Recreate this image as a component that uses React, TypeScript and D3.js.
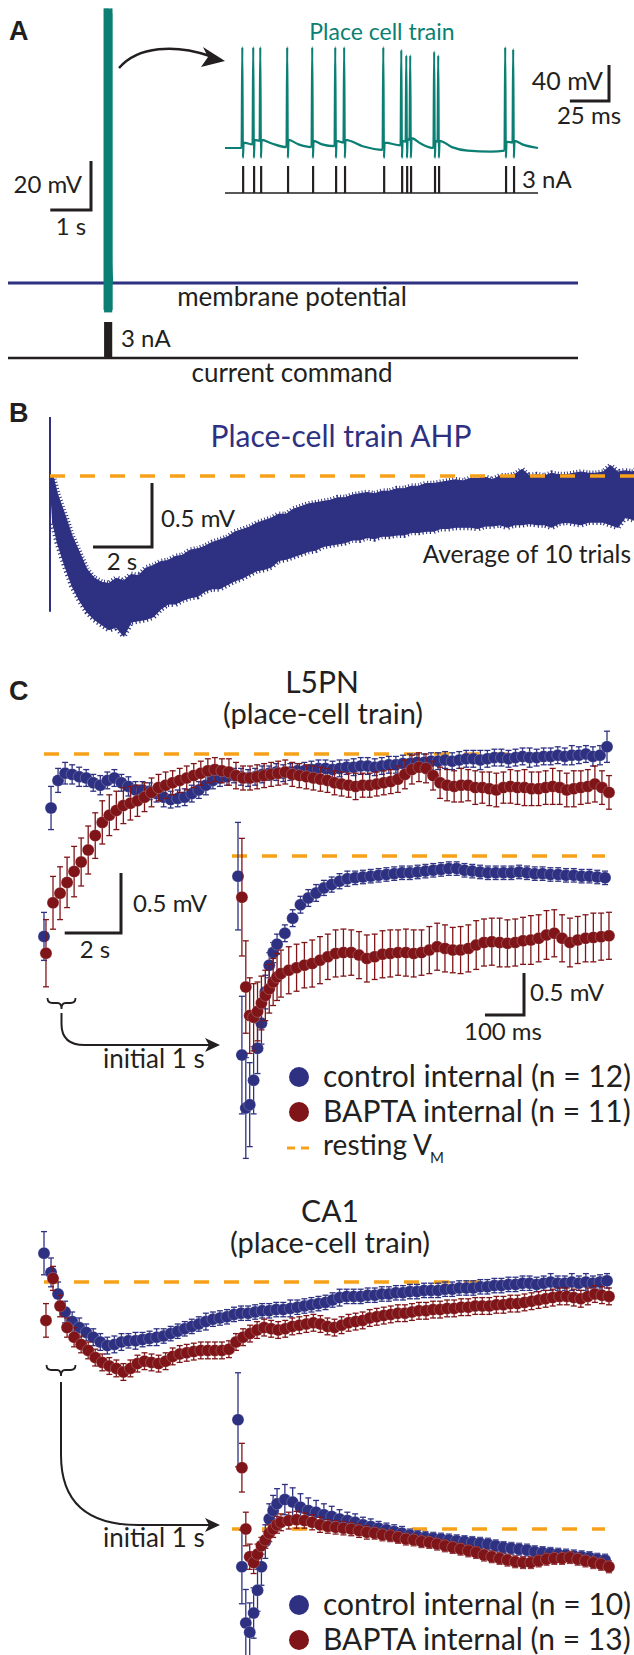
import React from 'react';
import * as d3 from 'd3';

const W = 634, H = 1655;
const FONT = "Lato, 'Open Sans', sans-serif";
const BOLD = "'Liberation Sans', Arial, sans-serif";
const INK = '#231f20';
const BLUE = '#2e3182';
const RED = '#7f1518';
const TEAL = '#0b7f73';
const ORANGE = '#f7a11a';

// ---------- Panel A: place-cell train ----------
const A_TRAIN_START_S = 2.36;
const A_SPIKE_T = [10.9, 17.9, 22.4, 39.6, 55.6, 70.3, 76, 101, 112.5, 115.7, 118.2, 133.5, 136.1, 178.9, 184];
const A_SPIKE_PEAK = [112, 112, 112, 112, 112, 112, 112, 112, 109, 103, 103, 107, 103, 112, 110];
const A_TROUGH_MV = -11;
const A_SUB_T = [0, 10.6, 11.9, 17.6, 18.9, 22.1, 23.4, 30, 39.3, 40.6, 47, 55.3, 56.6, 62, 70, 71.3, 75.7, 77, 88, 100.7, 102, 112.2, 113.5, 115.4, 116.7, 117.9, 119.2, 125, 133.2, 134.5, 135.8, 137.1, 145, 155, 170, 178.6, 179.9, 183.7, 185, 190, 200];
const A_SUB_V = [0, 0, 6, 4, 9, 8, 9, 5, 1, 9, 4, 1, 8, 4, 2, 8, 6, 9, 2, -2, 6, 3, 8, 7, 10, 9, 11, 5, 0, 8, 7, 8, 1, -3, -4, -3, 7, 6, 8, 4, 0];
const A_PULSE_NA = 3;
const A_PULSE_MS = 1.4;

// ---------- Panel B: AHP average (upper / lower edge of the noisy trace, mV) ----------
const B_T = [0.1, 0.25, 0.5, 0.75, 1.0, 1.25, 1.5, 1.75, 2.0, 2.25, 2.5, 2.75, 3.0, 3.25, 3.5, 3.75, 4.0, 4.25, 4.5, 4.75,
  5.0, 5.25, 5.5, 5.75, 6.0, 6.25, 6.5, 6.75, 7.0, 7.25, 7.5, 7.75, 8.0, 8.25, 8.5, 8.75, 9.0, 9.25, 9.5, 9.75,
  10.0, 10.25, 10.5, 10.75, 11.0, 11.25, 11.5, 11.75, 12.0, 12.25, 12.5, 12.75, 13.0, 13.25, 13.5, 13.75, 14.0, 14.25, 14.5, 14.75,
  15.0, 15.25, 15.5, 15.75, 16.0, 16.25, 16.5, 16.75, 17.0, 17.25, 17.5, 17.75, 18.0, 18.25, 18.5, 18.75, 19.0, 19.25, 19.5, 19.75, 19.95];
const B_HI = [0.0, -0.14, -0.3, -0.47, -0.6, -0.73, -0.8, -0.83, -0.84, -0.8, -0.82, -0.77, -0.78, -0.72, -0.7, -0.67, -0.66, -0.63, -0.62, -0.58,
  -0.57, -0.55, -0.52, -0.5, -0.48, -0.44, -0.42, -0.4, -0.37, -0.35, -0.33, -0.3, -0.3, -0.26, -0.24, -0.22, -0.21, -0.2, -0.19, -0.17,
  -0.17, -0.15, -0.14, -0.13, -0.14, -0.12, -0.12, -0.1, -0.1, -0.08, -0.08, -0.06, -0.06, -0.05, -0.04, -0.03, -0.04, -0.02, -0.02, -0.01,
  -0.03, 0.0, 0.0, 0.01, 0.05, 0.0, 0.01, 0.0, 0.02, 0.01, 0.01, 0.02, 0.03, 0.02, 0.02, 0.03, 0.08, 0.03, 0.04, 0.03, 0.06];
const B_LO = [-0.37, -0.52, -0.7, -0.86, -0.97, -1.06, -1.12, -1.16, -1.2, -1.18, -1.25, -1.14, -1.13, -1.12, -1.1, -1.04, -1.0, -1.0, -0.97, -0.95,
  -0.94, -0.9, -0.88, -0.88, -0.85, -0.82, -0.8, -0.77, -0.74, -0.73, -0.71, -0.66, -0.65, -0.63, -0.61, -0.59, -0.58, -0.55, -0.54, -0.53,
  -0.52, -0.5, -0.5, -0.48, -0.49, -0.47, -0.47, -0.46, -0.46, -0.44, -0.44, -0.43, -0.43, -0.41, -0.41, -0.4, -0.4, -0.4, -0.41, -0.39,
  -0.39, -0.38, -0.4, -0.38, -0.38, -0.37, -0.38, -0.38, -0.4, -0.37, -0.36, -0.37, -0.38, -0.36, -0.36, -0.36, -0.38, -0.4, -0.32, -0.34, -0.36];
const B_SPIKE = [0.46, -1.06];

// ---------- Panel C ----------
const MAIN_T = d3.range(0, 20.001, 0.25);
const INSET_T = [...d3.range(0, 100.1, 10), ...d3.range(120, 940.1, 20)];
const MAIN_RED_LAG_S = 0.07;
const INSET_RED_LAG_MS = 10;

const L5_MAIN_CTRL = [-1.52, -0.45, -0.22, -0.16, -0.17, -0.19, -0.2, -0.24, -0.26, -0.22,
  -0.2, -0.24, -0.27, -0.3, -0.3, -0.31, -0.33, -0.36, -0.38, -0.37,
  -0.36, -0.33, -0.3, -0.26, -0.22, -0.2, -0.19, -0.18, -0.19, -0.2,
  -0.19, -0.17, -0.16, -0.15, -0.16, -0.15, -0.14, -0.14, -0.13, -0.12,
  -0.12, -0.13, -0.12, -0.11, -0.11, -0.1, -0.1, -0.11, -0.1, -0.09,
  -0.09, -0.08, -0.08, -0.07, -0.07, -0.06, -0.06, -0.05, -0.06, -0.05,
  -0.04, -0.04, -0.05, -0.04, -0.03, -0.03, -0.04, -0.03, -0.02, -0.03,
  -0.03, -0.02, -0.02, -0.01, -0.02, -0.01, -0.01, 0.0, -0.02, -0.01,
  0.06];
const L5_MAIN_CTRL_ERR = [0.2, 0.18, 0.1, 0.09, 0.08, 0.08, 0.07, 0.07, 0.08, 0.07,
  0.07, 0.07, 0.08, 0.07, 0.07, 0.07, 0.07, 0.08, 0.07, 0.07,
  0.07, 0.07, 0.07, 0.08, 0.07, 0.07, 0.07, 0.06, 0.07, 0.07,
  0.07, 0.07, 0.06, 0.07, 0.07, 0.07, 0.06, 0.07, 0.07, 0.07,
  0.07, 0.07, 0.07, 0.06, 0.07, 0.07, 0.07, 0.07, 0.07, 0.07,
  0.07, 0.07, 0.08, 0.07, 0.07, 0.07, 0.07, 0.07, 0.07, 0.07,
  0.07, 0.07, 0.08, 0.07, 0.07, 0.07, 0.07, 0.07, 0.07, 0.08,
  0.07, 0.07, 0.07, 0.07, 0.07, 0.08, 0.07, 0.07, 0.08, 0.08,
  0.13];
const L5_MAIN_BAPTA = [-1.66, -1.24, -1.16, -1.07, -0.98, -0.9, -0.8, -0.68, -0.57, -0.51,
  -0.47, -0.43, -0.41, -0.39, -0.36, -0.32, -0.28, -0.26, -0.24, -0.22,
  -0.2, -0.18, -0.16, -0.14, -0.13, -0.14, -0.15, -0.18, -0.2, -0.2,
  -0.19, -0.18, -0.17, -0.16, -0.15, -0.17, -0.18, -0.19, -0.2, -0.21,
  -0.22, -0.24, -0.25, -0.26, -0.27, -0.26, -0.26, -0.25, -0.24, -0.23,
  -0.21, -0.17, -0.13, -0.11, -0.12, -0.18, -0.24, -0.26, -0.27, -0.26,
  -0.26, -0.28, -0.28, -0.29, -0.3, -0.28, -0.27, -0.28, -0.28, -0.29,
  -0.29, -0.28, -0.27, -0.28, -0.3, -0.29, -0.28, -0.27, -0.25, -0.28,
  -0.32];
const L5_MAIN_BAPTA_ERR = [0.28, 0.22, 0.22, 0.21, 0.21, 0.2, 0.2, 0.19, 0.18, 0.17,
  0.16, 0.15, 0.14, 0.13, 0.12, 0.12, 0.11, 0.11, 0.1, 0.1,
  0.1, 0.1, 0.1, 0.1, 0.1, 0.1, 0.11, 0.11, 0.1, 0.1,
  0.1, 0.1, 0.1, 0.1, 0.1, 0.1, 0.1, 0.1, 0.1, 0.1,
  0.1, 0.1, 0.1, 0.1, 0.11, 0.1, 0.1, 0.1, 0.1, 0.1,
  0.11, 0.12, 0.12, 0.12, 0.12, 0.12, 0.13, 0.13, 0.13, 0.14,
  0.13, 0.14, 0.13, 0.14, 0.14, 0.13, 0.14, 0.14, 0.15, 0.14,
  0.14, 0.14, 0.15, 0.14, 0.14, 0.15, 0.14, 0.14, 0.15, 0.14,
  0.14];

const L5_INSET_CTRL = [-0.24, -2.37, -3.0, -2.96, -2.67, -2.29, -1.99, -1.62, -1.3, -1.15, -1.05,
  -0.92, -0.74, -0.58, -0.5, -0.44, -0.38, -0.34, -0.3, -0.27, -0.26,
  -0.25, -0.24, -0.23, -0.22, -0.21, -0.2, -0.2, -0.19, -0.18, -0.17,
  -0.16, -0.15, -0.15, -0.17, -0.18, -0.19, -0.2, -0.2, -0.2, -0.2,
  -0.19, -0.2, -0.21, -0.21, -0.22, -0.22, -0.23, -0.23, -0.24, -0.24,
  -0.25, -0.26];
const L5_INSET_CTRL_ERR = [0.64, 0.7, 0.6, 0.5, 0.4, 0.3, 0.25, 0.2, 0.15, 0.12, 0.12,
  0.1, 0.1, 0.1, 0.1, 0.1, 0.09, 0.09, 0.09, 0.09, 0.08,
  0.08, 0.08, 0.08, 0.08, 0.08, 0.08, 0.08, 0.08, 0.08, 0.08,
  0.08, 0.08, 0.08, 0.08, 0.08, 0.08, 0.08, 0.08, 0.08, 0.08,
  0.08, 0.08, 0.08, 0.08, 0.08, 0.08, 0.08, 0.08, 0.08, 0.08,
  0.08, 0.08];
const L5_INSET_BAPTA = [-0.49, -1.56, -1.9, -1.92, -1.85, -1.75, -1.66, -1.58, -1.5, -1.44, -1.4,
  -1.36, -1.33, -1.3, -1.28, -1.24, -1.2, -1.16, -1.15, -1.15, -1.18,
  -1.22, -1.2, -1.17, -1.16, -1.15, -1.15, -1.16, -1.15, -1.12, -1.08,
  -1.1, -1.12, -1.12, -1.1, -1.06, -1.03, -1.02, -1.03, -1.04, -1.03,
  -1.01, -1.0, -0.98, -0.94, -0.92, -0.98, -1.03, -1.0, -0.98, -0.97,
  -0.96, -0.95];
const L5_INSET_BAPTA_ERR = [0.7, 0.55, 0.45, 0.4, 0.35, 0.32, 0.3, 0.29, 0.28, 0.28, 0.28,
  0.28, 0.28, 0.27, 0.28, 0.28, 0.27, 0.28, 0.28, 0.27, 0.28,
  0.28, 0.27, 0.28, 0.28, 0.27, 0.28, 0.28, 0.27, 0.28, 0.28,
  0.28, 0.27, 0.28, 0.28, 0.29, 0.28, 0.28, 0.29, 0.28, 0.28,
  0.28, 0.29, 0.28, 0.29, 0.28, 0.28, 0.29, 0.28, 0.28, 0.29,
  0.28, 0.28];

const CA1_MAIN_CTRL = [0.24, 0.08, -0.1, -0.25, -0.33, -0.38, -0.42, -0.46, -0.5, -0.53,
  -0.52, -0.5, -0.49, -0.49, -0.48, -0.47, -0.46, -0.45, -0.43, -0.41,
  -0.39, -0.37, -0.35, -0.33, -0.31, -0.3, -0.29, -0.27, -0.26, -0.26,
  -0.25, -0.24, -0.24, -0.23, -0.23, -0.22, -0.21, -0.2, -0.19, -0.18,
  -0.17, -0.15, -0.13, -0.12, -0.12, -0.12, -0.11, -0.11, -0.1, -0.1,
  -0.09, -0.09, -0.08, -0.08, -0.07, -0.07, -0.07, -0.06, -0.06, -0.05,
  -0.05, -0.05, -0.04, -0.04, -0.03, -0.03, -0.02, -0.02, -0.01, -0.01,
  -0.02, -0.01, 0.0, -0.01, -0.01, 0.0, -0.01, 0.0, -0.01, 0.0,
  0.01];
const CA1_MAIN_CTRL_ERR = [0.18, 0.12, 0.1, 0.09, 0.08, 0.08, 0.07, 0.07, 0.07, 0.07,
  0.07, 0.07, 0.06, 0.07, 0.06, 0.06, 0.07, 0.06, 0.06, 0.06,
  0.06, 0.06, 0.06, 0.07, 0.06, 0.06, 0.06, 0.06, 0.06, 0.06,
  0.06, 0.06, 0.06, 0.06, 0.06, 0.07, 0.06, 0.06, 0.06, 0.06,
  0.06, 0.06, 0.07, 0.06, 0.06, 0.06, 0.06, 0.06, 0.06, 0.06,
  0.06, 0.06, 0.06, 0.06, 0.06, 0.06, 0.06, 0.06, 0.06, 0.06,
  0.06, 0.06, 0.06, 0.06, 0.06, 0.06, 0.06, 0.06, 0.06, 0.06,
  0.06, 0.06, 0.07, 0.06, 0.06, 0.07, 0.06, 0.07, 0.06, 0.06,
  0.06];
const CA1_MAIN_BAPTA = [-0.32, 0.03, -0.2, -0.38, -0.46, -0.52, -0.57, -0.63, -0.67, -0.7,
  -0.72, -0.75, -0.72, -0.68, -0.66, -0.67, -0.68, -0.66, -0.62, -0.6,
  -0.59, -0.58, -0.57, -0.57, -0.57, -0.57, -0.56, -0.5, -0.46, -0.43,
  -0.4, -0.38, -0.39, -0.4, -0.39, -0.37, -0.36, -0.35, -0.34, -0.35,
  -0.37, -0.38, -0.36, -0.34, -0.33, -0.32, -0.3, -0.29, -0.28, -0.27,
  -0.26, -0.26, -0.25, -0.24, -0.24, -0.23, -0.23, -0.22, -0.22, -0.21,
  -0.21, -0.2, -0.2, -0.2, -0.19, -0.19, -0.18, -0.18, -0.17, -0.16,
  -0.15, -0.14, -0.13, -0.12, -0.12, -0.13, -0.14, -0.12, -0.1, -0.11,
  -0.12];
const CA1_MAIN_BAPTA_ERR = [0.14, 0.1, 0.09, 0.08, 0.08, 0.07, 0.07, 0.07, 0.07, 0.07,
  0.07, 0.07, 0.07, 0.07, 0.07, 0.07, 0.07, 0.07, 0.07, 0.07,
  0.07, 0.07, 0.07, 0.07, 0.07, 0.07, 0.07, 0.07, 0.07, 0.07,
  0.07, 0.07, 0.07, 0.07, 0.07, 0.07, 0.07, 0.07, 0.07, 0.07,
  0.07, 0.07, 0.07, 0.07, 0.07, 0.07, 0.07, 0.07, 0.07, 0.07,
  0.07, 0.07, 0.07, 0.07, 0.07, 0.07, 0.07, 0.07, 0.07, 0.07,
  0.07, 0.07, 0.07, 0.07, 0.07, 0.07, 0.07, 0.07, 0.07, 0.07,
  0.07, 0.07, 0.07, 0.07, 0.07, 0.07, 0.07, 0.07, 0.07, 0.07,
  0.07];

const CA1_INSET_CTRL = [1.3, -0.45, -1.12, -1.23, -1.0, -0.73, -0.45, -0.15, 0.12, 0.22, 0.3,
  0.35, 0.32, 0.26, 0.22, 0.2, 0.17, 0.15, 0.12, 0.1, 0.08,
  0.05, 0.03, 0.01, -0.01, -0.03, -0.05, -0.07, -0.09, -0.1, -0.11,
  -0.12, -0.13, -0.14, -0.15, -0.16, -0.17, -0.18, -0.2, -0.22, -0.23,
  -0.24, -0.25, -0.27, -0.28, -0.29, -0.3, -0.31, -0.32, -0.33, -0.34,
  -0.36, -0.37];
const CA1_INSET_CTRL_ERR = [0.56, 0.44, 0.4, 0.35, 0.3, 0.25, 0.22, 0.2, 0.18, 0.18, 0.18,
  0.18, 0.17, 0.16, 0.15, 0.14, 0.13, 0.12, 0.11, 0.1, 0.1,
  0.09, 0.09, 0.08, 0.08, 0.08, 0.08, 0.07, 0.07, 0.07, 0.07,
  0.07, 0.07, 0.07, 0.07, 0.07, 0.07, 0.07, 0.07, 0.07, 0.07,
  0.07, 0.07, 0.07, 0.07, 0.07, 0.07, 0.07, 0.07, 0.07, 0.07,
  0.07, 0.07];
const CA1_INSET_BAPTA = [0.73, 0.0, -0.33, -0.4, -0.3, -0.2, -0.13, -0.05, 0.0, 0.05, 0.08,
  0.1, 0.11, 0.1, 0.08, 0.05, 0.03, 0.02, 0.01, 0.0, -0.02,
  -0.04, -0.05, -0.07, -0.08, -0.1, -0.12, -0.13, -0.15, -0.16, -0.18,
  -0.2, -0.22, -0.24, -0.26, -0.28, -0.31, -0.33, -0.35, -0.37, -0.39,
  -0.4, -0.4, -0.38, -0.36, -0.35, -0.35, -0.34, -0.36, -0.38, -0.4,
  -0.42, -0.45];
const CA1_INSET_BAPTA_ERR = [0.29, 0.2, 0.15, 0.13, 0.12, 0.1, 0.1, 0.1, 0.1, 0.1, 0.1,
  0.1, 0.1, 0.09, 0.09, 0.09, 0.08, 0.08, 0.08, 0.08, 0.08,
  0.08, 0.07, 0.07, 0.07, 0.07, 0.07, 0.07, 0.07, 0.07, 0.07,
  0.07, 0.07, 0.07, 0.07, 0.07, 0.07, 0.07, 0.07, 0.07, 0.07,
  0.07, 0.07, 0.07, 0.07, 0.07, 0.07, 0.07, 0.07, 0.07, 0.07,
  0.07, 0.07];

const LEGEND_L5 = ['control internal (n = 12)', 'BAPTA internal (n = 11)'];
const LEGEND_CA1 = ['control internal (n = 10)', 'BAPTA internal (n = 13)'];

// ---------- helpers ----------
type Scale = d3.ScaleLinear<number, number>;

function Series({ t, v, e, x, y, color, lag = 0, r = 6, cap = 3 }:
  { t: number[]; v: number[]; e: number[]; x: Scale; y: Scale; color: string; lag?: number; r?: number; cap?: number }) {
  return (
    <g>
      <g stroke={color} strokeWidth={1.3} fill="none">
        {v.map((vi, i) => {
          const xi = x(t[i] + lag);
          const y1 = y(vi + e[i]);
          const y2 = y(vi - e[i]);
          return (
            <g key={i}>
              <line x1={xi} x2={xi} y1={y1} y2={y2} />
              <line x1={xi - cap} x2={xi + cap} y1={y1} y2={y1} />
              <line x1={xi - cap} x2={xi + cap} y1={y2} y2={y2} />
            </g>
          );
        })}
      </g>
      <g fill={color} stroke="#ffffff" strokeOpacity={0.35} strokeWidth={0.6}>
        {v.map((vi, i) => <circle key={i} cx={x(t[i] + lag)} cy={y(vi)} r={r} />)}
      </g>
    </g>
  );
}

function trainPoints(): [number, number][] {
  const pts: [number, number][] = A_SUB_T.map((t, i) => [t, A_SUB_V[i]]);
  A_SPIKE_T.forEach((ts, i) => {
    pts.push([ts + 0.15, A_SPIKE_PEAK[i]]);
    pts.push([ts + 0.55, A_TROUGH_MV]);
  });
  pts.sort((a, b) => a[0] - b[0]);
  return pts;
}

function ScaleBar({ x, y, w, h, sw = 3 }: { x: number; y: number; w: number; h: number; sw?: number }) {
  return <path d={`M${x - w},${y} H${x} V${y - h}`} fill="none" stroke={INK} strokeWidth={sw} />;
}

function PanelA() {
  const xA = d3.scaleLinear().domain([0, 14]).range([8, 578]);
  const yA = d3.scaleLinear().domain([0, 20]).range([283, 234]);
  const xIn = d3.scaleLinear().domain([0, 200]).range([225, 538]);
  const yIn = d3.scaleLinear().domain([0, 40]).range([148, 112]);
  const iIn = d3.scaleLinear().domain([0, 3]).range([193, 166]);
  const iMain = d3.scaleLinear().domain([0, 3]).range([358, 322]);

  const pts = trainPoints();
  const insetLine = d3.line<[number, number]>().x(d => xIn(d[0])).y(d => yIn(d[1])).curve(d3.curveMonotoneX);
  const mainTrain = d3.line<[number, number]>().x(d => xA(A_TRAIN_START_S + d[0] / 1000)).y(d => yA(d[1]));
  const tr0 = xA(A_TRAIN_START_S), tr1 = xA(A_TRAIN_START_S + 0.2);

  return (
    <g>
      <text x={9} y={40} fontFamily={BOLD} fontWeight="bold" fontSize={27} fill={INK}>A</text>
      <line x1={xA(0)} x2={xA(14)} y1={yA(0)} y2={yA(0)} stroke={BLUE} strokeWidth={3} />
      <rect x={tr0} width={tr1 - tr0} y={yA(112)} height={yA(-12) - yA(112)} fill={TEAL} />
      <path d={mainTrain(pts) || ''} fill="none" stroke={TEAL} strokeWidth={2} />
      <text x={292} y={306} fontSize={26} textAnchor="middle" fill={INK}>membrane potential</text>
      <line x1={xA(0)} x2={xA(14)} y1={iMain(0)} y2={iMain(0)} stroke={INK} strokeWidth={2.5} />
      <rect x={tr0} width={tr1 - tr0} y={iMain(3)} height={iMain(0) - iMain(3)} fill={INK} />
      <text x={121} y={347} fontSize={24} fill={INK}>3 nA</text>
      <text x={292} y={382} fontSize={26} textAnchor="middle" fill={INK}>current command</text>
      <ScaleBar x={91} y={210} w={xA(1) - xA(0)} h={yA(0) - yA(20)} />
      <text x={82} y={193} fontSize={24} textAnchor="end" fill={INK}>20 mV</text>
      <text x={71} y={235} fontSize={24} textAnchor="middle" fill={INK}>1 s</text>
      <path d="M119,68 C138,46 175,44 210,56" fill="none" stroke={INK} strokeWidth={2.5} />
      <polygon points="225,61 203,47 208,57 201,67" fill={INK} />
      <text x={382} y={40} fontSize={23} textAnchor="middle" fill={TEAL}>Place cell train</text>
      <path d={insetLine(pts) || ''} fill="none" stroke={TEAL} strokeWidth={2.2} strokeLinejoin="round" />
      <line x1={xIn(0)} x2={xIn(200)} y1={iIn(0)} y2={iIn(0)} stroke={INK} strokeWidth={1.5} />
      {A_SPIKE_T.map((ts, i) => (
        <rect key={i} x={xIn(ts)} width={xIn(ts + A_PULSE_MS) - xIn(ts)} y={iIn(A_PULSE_NA)} height={iIn(0) - iIn(A_PULSE_NA)} fill={INK} />
      ))}
      <text x={522} y={188} fontSize={24} fill={INK}>3 nA</text>
      <ScaleBar x={609} y={101} w={xIn(25) - xIn(0)} h={yIn(0) - yIn(40)} />
      <text x={603} y={90} fontSize={25} textAnchor="end" fill={INK}>40 mV</text>
      <text x={589} y={124} fontSize={24} textAnchor="middle" fill={INK}>25 ms</text>
    </g>
  );
}

function PanelB() {
  const xB = d3.scaleLinear().domain([0, 20]).range([50, 640]);
  const yB = d3.scaleLinear().domain([0, -0.5]).range([476, 540]);
  const idx = B_T.map((_, i) => i);
  const area = d3.area<number>().x(i => xB(B_T[i])).y0(i => yB(B_LO[i])).y1(i => yB(B_HI[i]));
  const hiLine = d3.line<number>().x(i => xB(B_T[i])).y(i => yB(B_HI[i]));
  const loLine = d3.line<number>().x(i => xB(B_T[i])).y(i => yB(B_LO[i]));
  return (
    <g>
      <text x={9} y={422} fontFamily={BOLD} fontWeight="bold" fontSize={27} fill={INK}>B</text>
      <text x={341} y={447} fontSize={30} textAnchor="middle" fill={BLUE}>Place-cell train AHP</text>
      <path d={area(idx) || ''} fill={BLUE} stroke={BLUE} strokeWidth={1.2} />
      {/* fuzzy noisy edges of the recording */}
      <path d={hiLine(idx) || ''} fill="none" stroke={BLUE} strokeWidth={6} strokeDasharray="1 2.2" />
      <path d={loLine(idx) || ''} fill="none" stroke={BLUE} strokeWidth={6} strokeDasharray="1.2 2.6" />
      <path d={`M${xB(0)},${yB(0)} L${xB(B_T[0])},${yB(B_HI[0])} L${xB(B_T[0])},${yB(B_LO[0])} Z`} fill={BLUE} stroke={BLUE} strokeWidth={1.5} />
      <line x1={xB(0)} x2={xB(0)} y1={yB(B_SPIKE[0])} y2={yB(B_SPIKE[1])} stroke={BLUE} strokeWidth={2} />
      <line x1={xB(0)} x2={634} y1={yB(0)} y2={yB(0)} stroke={ORANGE} strokeWidth={3.3} strokeDasharray="15 15" />
      <ScaleBar x={152} y={547} w={xB(2) - xB(0)} h={yB(-0.5) - yB(0)} />
      <text x={161} y={527} fontSize={24} fill={INK}>0.5 mV</text>
      <text x={122} y={570} fontSize={24} textAnchor="middle" fill={INK}>2 s</text>
      <text x={631} y={563} fontSize={24.5} textAnchor="end" fill={INK}>Average of 10 trials</text>
    </g>
  );
}

function Brace({ cx, y, w }: { cx: number; y: number; w: number }) {
  const h = w / 2;
  return (
    <path d={`M${cx - h},${y - 5} q0,5 5,5 h${h - 9} q4,0 4,6 q0,-6 4,-6 h${h - 9} q5,0 5,-5`}
      fill="none" stroke={INK} strokeWidth={1.8} />
  );
}

function CurvedArrow({ x0, y0, yTurn, y1, xTip }: { x0: number; y0: number; yTurn: number; y1: number; xTip: number }) {
  const r = y1 - yTurn;
  return (
    <g>
      <path d={`M${x0},${y0} V${yTurn} C${x0},${yTurn + r * 0.7} ${x0 + r * 0.4},${y1} ${x0 + r * 1.1},${y1} H${xTip - 10}`}
        fill="none" stroke={INK} strokeWidth={2} />
      <polygon points={`${xTip},${y1} ${xTip - 15},${y1 - 7} ${xTip - 11},${y1} ${xTip - 15},${y1 + 7}`} fill={INK} />
    </g>
  );
}

function Legend({ y0, labels, resting }: { y0: number; labels: string[]; resting: boolean }) {
  return (
    <g>
      <circle cx={299} cy={y0} r={10} fill={BLUE} />
      <text x={323} y={y0 + 10} fontSize={30} fill={INK}>{labels[0]}</text>
      <circle cx={299} cy={y0 + 35} r={10} fill={RED} />
      <text x={323} y={y0 + 45} fontSize={30} fill={INK}>{labels[1]}</text>
      {resting && (
        <g>
          <line x1={287} x2={309} y1={y0 + 71} y2={y0 + 71} stroke={ORANGE} strokeWidth={3} strokeDasharray="8 6" />
          <text x={323} y={y0 + 78} fontSize={28} fill={INK}>resting V</text>
          <text x={430} y={y0 + 86} fontSize={15} fill={INK}>M</text>
        </g>
      )}
    </g>
  );
}

function PanelC() {
  const xMain = d3.scaleLinear().domain([0, 20]).range([44, 607]);
  const xIn = d3.scaleLinear().domain([0, 945]).range([238, 607]);
  const yL5 = d3.scaleLinear().domain([0, 1]).range([754, 634]);
  const yL5in = d3.scaleLinear().domain([0, 1]).range([856, 772]);
  const yCA = d3.scaleLinear().domain([0, 1]).range([1282, 1162]);
  const yCAin = d3.scaleLinear().domain([0, 1]).range([1529, 1445]);

  return (
    <g>
      <text x={9} y={700} fontFamily={BOLD} fontWeight="bold" fontSize={27} fill={INK}>C</text>
      <text x={322} y={693} fontSize={30} textAnchor="middle" fill={INK}>L5PN</text>
      <text x={323} y={724} fontSize={29} textAnchor="middle" fill={INK}>(place-cell train)</text>

      <line x1={44} x2={598} y1={yL5(0)} y2={yL5(0)} stroke={ORANGE} strokeWidth={3.3} strokeDasharray="15 15" />
      <Series t={MAIN_T} v={L5_MAIN_CTRL} e={L5_MAIN_CTRL_ERR} x={xMain} y={yL5} color={BLUE} />
      <Series t={MAIN_T} v={L5_MAIN_BAPTA} e={L5_MAIN_BAPTA_ERR} x={xMain} y={yL5} color={RED} lag={MAIN_RED_LAG_S} />
      <ScaleBar x={121} y={933} w={xMain(2) - xMain(0)} h={yL5(0) - yL5(0.5)} />
      <text x={133} y={912} fontSize={24} fill={INK}>0.5 mV</text>
      <text x={95} y={958} fontSize={24} textAnchor="middle" fill={INK}>2 s</text>

      <line x1={232} x2={605} y1={yL5in(0)} y2={yL5in(0)} stroke={ORANGE} strokeWidth={3.3} strokeDasharray="15 15" />
      <Series t={INSET_T} v={L5_INSET_CTRL} e={L5_INSET_CTRL_ERR} x={xIn} y={yL5in} color={BLUE} />
      <Series t={INSET_T} v={L5_INSET_BAPTA} e={L5_INSET_BAPTA_ERR} x={xIn} y={yL5in} color={RED} lag={INSET_RED_LAG_MS} />
      <ScaleBar x={524} y={1015} w={xIn(100) - xIn(0)} h={yL5in(0) - yL5in(0.5)} />
      <text x={530} y={1001} fontSize={24} fill={INK}>0.5 mV</text>
      <text x={503} y={1040} fontSize={24} textAnchor="middle" fill={INK}>100 ms</text>

      <Brace cx={61.5} y={1003} w={28} />
      <CurvedArrow x0={61.5} y0={1013} yTurn={1024} y1={1045} xTip={220} />
      <text x={103} y={1068} fontSize={26} fill={INK}>initial 1 s</text>
      <Legend y0={1077} labels={LEGEND_L5} resting={true} />

      <text x={330} y={1222} fontSize={30} textAnchor="middle" fill={INK}>CA1</text>
      <text x={330} y={1253} fontSize={29} textAnchor="middle" fill={INK}>(place-cell train)</text>
      <line x1={44} x2={596} y1={yCA(0)} y2={yCA(0)} stroke={ORANGE} strokeWidth={3.3} strokeDasharray="15 15" />
      <Series t={MAIN_T} v={CA1_MAIN_CTRL} e={CA1_MAIN_CTRL_ERR} x={xMain} y={yCA} color={BLUE} />
      <Series t={MAIN_T} v={CA1_MAIN_BAPTA} e={CA1_MAIN_BAPTA_ERR} x={xMain} y={yCA} color={RED} lag={MAIN_RED_LAG_S} />

      <line x1={232} x2={605} y1={yCAin(0)} y2={yCAin(0)} stroke={ORANGE} strokeWidth={3.3} strokeDasharray="15 15" />
      <Series t={INSET_T} v={CA1_INSET_CTRL} e={CA1_INSET_CTRL_ERR} x={xIn} y={yCAin} color={BLUE} />
      <Series t={INSET_T} v={CA1_INSET_BAPTA} e={CA1_INSET_BAPTA_ERR} x={xIn} y={yCAin} color={RED} lag={INSET_RED_LAG_MS} />

      <Brace cx={61} y={1370} w={29} />
      <CurvedArrow x0={61} y0={1382} yTurn={1455} y1={1525} xTip={220} />
      <text x={103} y={1547} fontSize={26} fill={INK}>initial 1 s</text>
      <Legend y0={1605} labels={LEGEND_CA1} resting={false} />
    </g>
  );
}

export default function App() {
  return (
    <svg width={W} height={H} viewBox={`0 0 ${W} ${H}`}
      style={{ position: 'absolute', left: 0, top: 0, background: '#ffffff', display: 'block' }}
      fontFamily={FONT}>
      <rect width={W} height={H} fill="#ffffff" />
      <PanelA />
      <PanelB />
      <PanelC />
    </svg>
  );
}
